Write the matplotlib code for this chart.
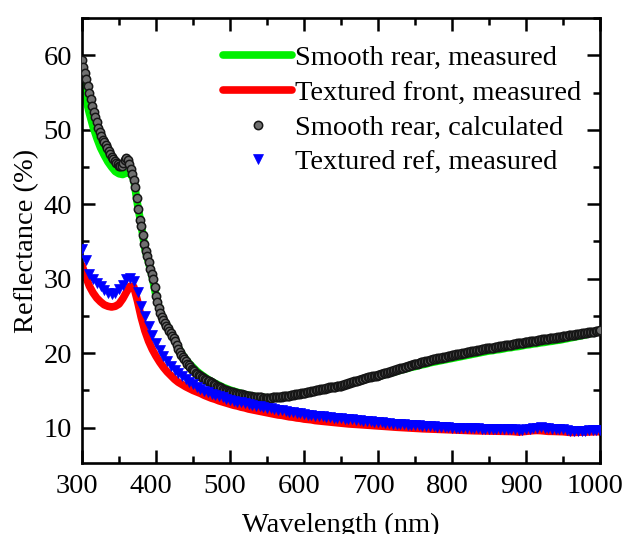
import numpy as np
import matplotlib
matplotlib.use("Agg")
import matplotlib.pyplot as plt
import matplotlib.transforms as mtransforms
from matplotlib.ticker import MultipleLocator

plt.rcParams["font.family"] = ["Liberation Serif", "DejaVu Serif"]

# Measured spectra: 5 nm steps
wavelength = np.arange(300, 1001, 5)
# Calculated spectrum: 2 nm steps
calc_wavelength = np.arange(300, 1001, 2)

smooth_rear_calc = [
    # 300-450 nm
    59.4, 58.5, 57.6, 56.8, 55.9, 55.0, 54.1, 53.2, 52.4, 51.7,
    51.0, 50.3, 49.7, 49.2, 48.7, 48.3, 47.9, 47.5, 47.1, 46.7,
    46.4, 46.1, 45.8, 45.6, 45.4, 45.2, 45.1, 45.2, 45.5, 45.9,
    46.2, 46.0, 45.4, 44.7, 44.0, 43.2, 42.3, 40.8, 39.3, 37.9,
    37.1, 35.9, 34.6, 33.7, 33.0, 32.3, 31.3, 30.6, 29.9, 28.9,
    27.7, 26.9, 26.1, 25.4, 24.9, 24.4, 24.0, 23.7, 23.4, 23.0,
    22.7, 22.3, 22.0, 21.6, 21.1, 20.6, 20.2, 19.8, 19.5, 19.2,
    18.9, 18.6, 18.35, 18.1, 17.9, 17.7,
    # 452-500 nm
    17.55, 17.4, 17.2, 17.05, 16.9, 16.8, 16.65, 16.55, 16.4, 16.3,
    16.2, 16.1, 15.95, 15.85, 15.7, 15.6, 15.5, 15.4, 15.3, 15.2,
    15.1, 15.05, 14.95, 14.9, 14.85,
    # 502-550 nm
    14.8, 14.75, 14.65, 14.6, 14.55, 14.5, 14.45, 14.45, 14.4, 14.35,
    14.3, 14.25, 14.25, 14.2, 14.15, 14.15, 14.1, 14.1, 14.05, 14.05,
    14.05, 14.0, 14.0, 14.0, 14.0,
    # 552-600 nm
    14.0, 14.0, 14.0, 14.05, 14.05, 14.05, 14.1, 14.1, 14.15, 14.15,
    14.2, 14.2, 14.25, 14.3, 14.3, 14.35, 14.4, 14.4, 14.45, 14.45,
    14.5, 14.55, 14.6, 14.6, 14.65,
    # 602-650 nm
    14.7, 14.75, 14.8, 14.85, 14.9, 14.95, 14.95, 15.0, 15.05, 15.1,
    15.15, 15.2, 15.2, 15.25, 15.3, 15.35, 15.4, 15.4, 15.45, 15.5,
    15.5, 15.55, 15.6, 15.6, 15.65,
    # 652-700 nm
    15.7, 15.75, 15.85, 15.9, 15.95, 16.0, 16.1, 16.15, 16.2, 16.25,
    16.3, 16.4, 16.45, 16.5, 16.55, 16.6, 16.65, 16.75, 16.8, 16.85,
    16.9, 16.95, 17.0, 17.0, 17.05,
    # 702-750 nm
    17.1, 17.2, 17.25, 17.3, 17.35, 17.4, 17.45, 17.5, 17.6, 17.65,
    17.7, 17.75, 17.85, 17.9, 17.95, 18.0, 18.05, 18.15, 18.2, 18.25,
    18.3, 18.35, 18.45, 18.5, 18.5,
    # 752-800 nm
    18.55, 18.6, 18.7, 18.75, 18.8, 18.85, 18.9, 18.95, 19.0, 19.05,
    19.1, 19.15, 19.2, 19.25, 19.3, 19.35, 19.4, 19.4, 19.45, 19.5,
    19.55, 19.6, 19.6, 19.65, 19.7,
    # 802-850 nm
    19.75, 19.8, 19.85, 19.85, 19.9, 19.95, 20.0, 20.05, 20.05, 20.1,
    20.15, 20.2, 20.25, 20.25, 20.3, 20.35, 20.4, 20.45, 20.45, 20.5,
    20.55, 20.6, 20.65, 20.65, 20.7,
    # 852-900 nm
    20.7, 20.75, 20.75, 20.8, 20.85, 20.85, 20.9, 20.9, 20.95, 21.0,
    21.05, 21.1, 21.1, 21.15, 21.15, 21.2, 21.25, 21.25, 21.3, 21.3,
    21.35, 21.4, 21.4, 21.45, 21.5,
    # 902-950 nm
    21.5, 21.55, 21.6, 21.6, 21.65, 21.7, 21.7, 21.75, 21.8, 21.8,
    21.85, 21.85, 21.9, 21.95, 21.95, 22.0, 22.0, 22.05, 22.1, 22.1,
    22.15, 22.15, 22.2, 22.2, 22.25,
    # 952-1000 nm
    22.3, 22.3, 22.35, 22.4, 22.4, 22.45, 22.45, 22.5, 22.55, 22.55,
    22.6, 22.6, 22.65, 22.7, 22.7, 22.75, 22.8, 22.8, 22.85, 22.85,
    22.9, 22.95, 22.95, 23.0, 23.05,
]

smooth_rear_meas = [
    56.5, 54.3, 52.2, 50.4, 48.9, 47.6, 46.6, 45.7, 45.0, 44.4,
    44.1, 44.0, 44.2, 44.2, 43.3, 40.0, 37.2, 34.0, 32.2, 30.2,
    27.7, 25.8, 24.5, 23.7, 22.8, 21.9, 20.8, 19.9, 19.2, 18.6,
    18.1, 17.6, 17.2, 16.85, 16.5, 16.2, 15.95, 15.7, 15.45, 15.25,
    15.05, 14.9, 14.75, 14.6, 14.45, 14.35, 14.25, 14.15, 14.1, 14.05,
    14.0, 14.0, 14.05, 14.1, 14.15, 14.2, 14.3, 14.35, 14.45, 14.55,
    14.65, 14.75, 14.85, 14.95, 15.05, 15.15, 15.25, 15.35, 15.45, 15.5,
    15.6, 15.7, 15.85, 16.0, 16.15, 16.3, 16.45, 16.6, 16.7, 16.8,
    16.9, 17.0, 17.15, 17.3, 17.4, 17.55, 17.7, 17.85, 17.95, 18.1,
    18.2, 18.35, 18.45, 18.55, 18.7, 18.8, 18.9, 19.0, 19.1, 19.2,
    19.3, 19.4, 19.5, 19.6, 19.7, 19.8, 19.9, 20.0, 20.1, 20.2,
    20.3, 20.35, 20.45, 20.5, 20.6, 20.7, 20.75, 20.85, 20.9, 21.0,
    21.1, 21.15, 21.25, 21.3, 21.4, 21.45, 21.55, 21.6, 21.7, 21.75,
    21.85, 21.95, 22.05, 22.15, 22.25, 22.35, 22.45, 22.6, 22.7, 22.85,
    23.0,
]

textured_front_meas = [
    31.8, 30.3, 29.0, 28.1, 27.4, 26.9, 26.5, 26.3, 26.2, 26.3,
    26.6, 27.3, 28.2, 29.0, 28.9, 27.0, 24.8, 23.0, 21.6, 20.5,
    19.6, 18.8, 18.1, 17.5, 17.0, 16.5, 16.1, 15.8, 15.5, 15.25,
    15.0, 14.8, 14.6, 14.35, 14.15, 13.95, 13.8, 13.6, 13.45, 13.3,
    13.15, 13.0, 12.9, 12.75, 12.65, 12.5, 12.4, 12.3, 12.2, 12.1,
    12.0, 11.9, 11.8, 11.7, 11.65, 11.55, 11.45, 11.4, 11.3, 11.25,
    11.15, 11.1, 11.05, 10.95, 10.9, 10.85, 10.8, 10.75, 10.7, 10.65,
    10.6, 10.55, 10.5, 10.47, 10.44, 10.4, 10.37, 10.33, 10.3, 10.26,
    10.23, 10.2, 10.16, 10.12, 10.09, 10.05, 10.02, 9.99, 9.96, 9.93,
    9.9, 9.88, 9.85, 9.83, 9.8, 9.78, 9.76, 9.74, 9.72, 9.7,
    9.68, 9.66, 9.65, 9.63, 9.62, 9.6, 9.58, 9.57, 9.56, 9.55,
    9.54, 9.53, 9.52, 9.51, 9.5, 9.5, 9.48, 9.45, 9.4, 9.45,
    9.5, 9.55, 9.6, 9.62, 9.6, 9.55, 9.5, 9.5, 9.48, 9.46,
    9.45, 9.4, 9.35, 9.35, 9.38, 9.4, 9.4, 9.42, 9.44, 9.45,
    9.45,
]

textured_ref_meas = [
    34.0, 32.5, 30.7, 29.9, 29.4, 29.0, 28.5, 28.1, 27.9, 28.1,
    28.6, 29.2, 29.9, 30.1, 29.7, 28.2, 26.4, 25.0, 23.6, 22.4,
    21.3, 20.4, 19.6, 18.9, 18.3, 17.8, 17.3, 16.9, 16.5, 16.1,
    15.8, 15.5, 15.2, 14.95, 14.75, 14.55, 14.35, 14.2, 14.05, 13.9,
    13.75, 13.6, 13.5, 13.4, 13.3, 13.15, 13.05, 12.95, 12.85, 12.75,
    12.7, 12.6, 12.5, 12.4, 12.3, 12.2, 12.15, 12.05, 11.95, 11.9,
    11.8, 11.75, 11.7, 11.6, 11.55, 11.5, 11.45, 11.4, 11.35, 11.3,
    11.25, 11.2, 11.15, 11.1, 11.05, 11.0, 10.95, 10.9, 10.85, 10.8,
    10.75, 10.7, 10.65, 10.6, 10.55, 10.5, 10.47, 10.43, 10.4, 10.36,
    10.33, 10.3, 10.26, 10.23, 10.2, 10.16, 10.13, 10.1, 10.06, 10.03,
    10.0, 9.98, 9.96, 9.95, 9.93, 9.92, 9.9, 9.89, 9.88, 9.87,
    9.86, 9.85, 9.84, 9.83, 9.82, 9.82, 9.81, 9.8, 9.65, 9.7,
    9.78, 9.82, 9.9, 10.0, 10.02, 9.95, 9.9, 9.85, 9.82, 9.8,
    9.78, 9.7, 9.6, 9.55, 9.56, 9.6, 9.6, 9.62, 9.64, 9.66,
    9.68,
]

fig = plt.figure(figsize=(6.26, 5.34), dpi=100)
ax = fig.add_axes([0.131, 0.133, 0.8275, 0.833])

ax.plot(wavelength, smooth_rear_meas, color="#00f000", lw=5.5,
        solid_capstyle="round", label="Smooth rear, measured", zorder=2)
ax.plot(wavelength, textured_front_meas, color="#ff0000", lw=5.5,
        solid_capstyle="round", label="Textured front, measured", zorder=2)
ax.plot(calc_wavelength, smooth_rear_calc, ls="none", marker="o", ms=6,
        mfc="#707070", mec="#151515", mew=1.1,
        label="Smooth rear, calculated", zorder=3)
ax.plot(wavelength, textured_ref_meas, ls="none", marker="v", ms=7,
        mfc="#0000ff", mec="#0000ff", mew=0.5,
        label="Textured ref, measured", zorder=3)

ax.set_xlim(300, 1000)
ax.set_ylim(5.25, 65)
ax.xaxis.set_major_locator(MultipleLocator(100))
ax.xaxis.set_minor_locator(MultipleLocator(50))
ax.yaxis.set_major_locator(MultipleLocator(10))
ax.yaxis.set_minor_locator(MultipleLocator(5))
ax.tick_params(which="both", direction="in", top=True, right=True,
               width=1.8, colors="black")
ax.tick_params(which="major", length=9.5, labelsize=20.5)
ax.tick_params(axis="x", which="major", pad=8)
ax.tick_params(axis="y", which="major", pad=7)
ax.tick_params(which="minor", length=5)
for s in ax.spines.values():
    s.set_linewidth(1.9)

# nudge the wavelength tick labels slightly to the left
shift = mtransforms.ScaledTranslation(-5 / 100, 0, fig.dpi_scale_trans)
for lbl in ax.get_xticklabels():
    lbl.set_transform(lbl.get_transform() + shift)

ax.set_xlabel("Wavelength (nm)", fontsize=20.5, labelpad=10)
ax.set_ylabel("Reflectance (%)", fontsize=20.5, labelpad=3)

leg = ax.legend(loc="upper right", bbox_to_anchor=(0.986, 0.965),
                frameon=False, fontsize=20.5,
                handlelength=2.4, handletextpad=0.12, labelspacing=0.31,
                borderaxespad=0.0, borderpad=0.4, markerscale=1.0)

fig.savefig("out.png", dpi=100)
